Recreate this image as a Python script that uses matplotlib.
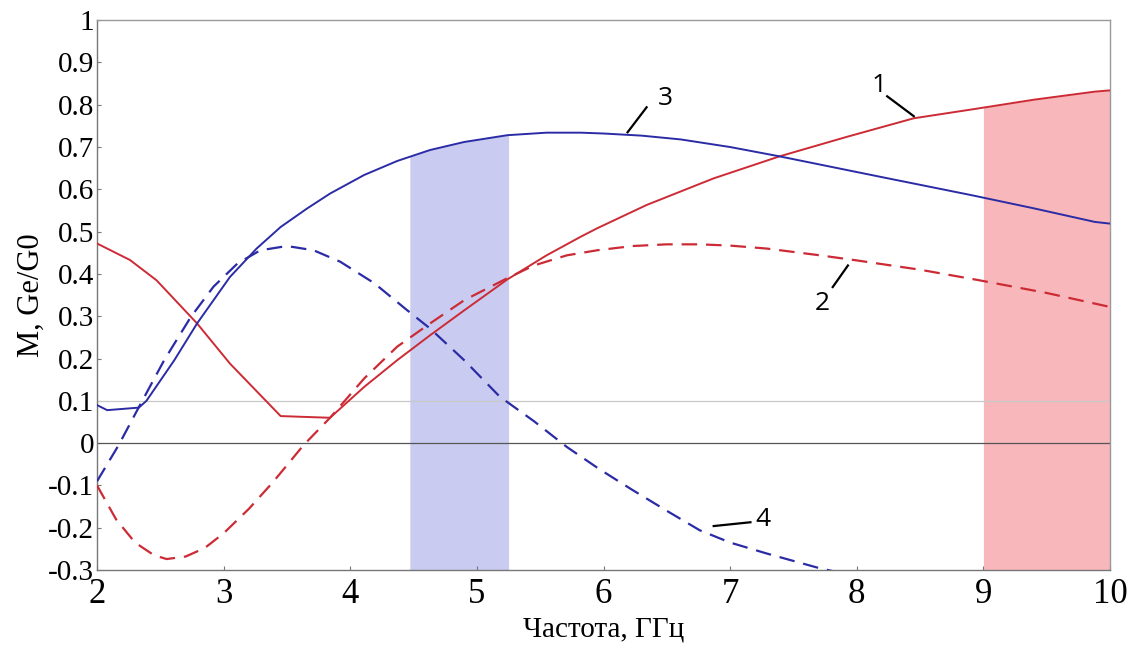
import numpy as np
import matplotlib
matplotlib.use("Agg")
import matplotlib.pyplot as plt

# curve 1 - red solid
x1 = [2.0, 2.26, 2.47, 2.79, 3.05, 3.45, 3.84, 4.11, 4.37, 4.63, 4.9, 5.24, 5.55, 5.82, 5.95,
      6.34, 6.87, 7.39, 7.92, 8.45, 8.91, 9.4, 9.88, 10.0]
y1 = [0.472, 0.433, 0.385, 0.283, 0.188, 0.064, 0.06, 0.133, 0.196, 0.255, 0.314, 0.387, 0.444, 0.488, 0.508,
      0.563, 0.626, 0.678, 0.724, 0.768, 0.789, 0.812, 0.831, 0.834]

# curve 2 - red dashed
x2 = [2.0, 2.15, 2.3, 2.45, 2.55, 2.7, 2.85, 3.0, 3.2, 3.39, 3.63, 3.84, 4.11, 4.37, 4.63, 4.9, 5.24,
      5.45, 5.71, 5.95, 6.23, 6.5, 6.76, 7.0, 7.29, 7.71, 8.0, 8.5, 8.95, 9.5, 10.0]
y2 = [-0.1, -0.18, -0.235, -0.265, -0.274, -0.268, -0.248, -0.213, -0.155, -0.092, -0.005, 0.06, 0.153, 0.228, 0.283, 0.338, 0.39,
      0.42, 0.444, 0.456, 0.466, 0.47, 0.47, 0.467, 0.46, 0.444, 0.432, 0.41, 0.386, 0.355, 0.322]

# curve 3 - blue solid
x3 = [2.0, 2.08, 2.33, 2.39, 2.61, 2.79, 3.05, 3.26, 3.45, 3.66, 3.84, 4.11, 4.37, 4.63, 4.9, 5.24,
      5.55, 5.82, 6.0, 6.3, 6.61, 7.0, 7.39, 8.18, 8.91, 9.4, 9.88, 10.0]
y3 = [0.09, 0.078, 0.084, 0.1, 0.196, 0.283, 0.393, 0.46, 0.511, 0.555, 0.59, 0.634, 0.667, 0.693, 0.712, 0.728,
      0.734, 0.734, 0.732, 0.727, 0.718, 0.7, 0.678, 0.63, 0.586, 0.555, 0.523, 0.519]

# curve 4 - blue dashed
x4 = [2.0, 2.17, 2.33, 2.53, 2.74, 2.92, 3.11, 3.29, 3.5, 3.71, 3.92, 4.19, 4.45, 4.63, 4.9, 5.18,
      5.45, 5.71, 5.97, 6.23, 6.5, 6.76, 7.0, 7.29, 7.71, 8.0]
y4 = [-0.09, -0.005, 0.085, 0.196, 0.298, 0.37, 0.425, 0.456, 0.466, 0.456, 0.429, 0.378, 0.314, 0.271, 0.196, 0.11,
      0.052, -0.009, -0.062, -0.111, -0.16, -0.206, -0.235, -0.261, -0.296, -0.315]

blue_band = (4.47, 5.25)
red_band = (9.0, 10.0)

RED = '#cc2b35'
BLUE = '#2b2ba6'
SERIF = ['Liberation Serif', 'DejaVu Serif']

fig = plt.figure(figsize=(11.35, 6.5), dpi=100)
ax = fig.add_axes([0.0855, 0.123, 0.8925, 0.846])

ymin, ymax = -0.3, 1.0

# shaded bands go from the bottom up to the curve
xb = np.linspace(blue_band[0], blue_band[1], 100)
ax.fill_between(xb, ymin, np.interp(xb, x3, y3), color='#c9ccf0', lw=0, zorder=1)
xr = np.linspace(red_band[0], red_band[1], 100)
ax.fill_between(xr, ymin, np.interp(xr, x1, y1), color='#f8b7bb', lw=0, zorder=1)

ax.axhline(0, color='#555555', lw=0.9, zorder=2)
ax.axhline(0.1, color='#c8c8c8', lw=0.9, zorder=2)

ax.plot(x1, y1, color=RED, lw=1.4, zorder=3)
ax.plot(x2, y2, color=RED, lw=1.6, dashes=(7, 4), zorder=3)
ax.plot(x3, y3, color=BLUE, lw=1.4, zorder=3)
ax.plot(x4, y4, color=BLUE, lw=1.6, dashes=(7, 4), zorder=3)

# curve numbers with leader lines
labels = [('1', (8.24, 0.82), (8.45, 0.773), (8.18, 0.845)),
          ('2', (7.93, 0.42), (7.81, 0.369), (7.73, 0.33)),
          ('3', (6.34, 0.794), (6.19, 0.735), (6.49, 0.815)),
          ('4', (6.87, -0.196), (7.16, -0.187), (7.26, -0.18))]
for t, p0, p1, pt in labels:
    ax.plot([p0[0], p1[0]], [p0[1], p1[1]], color='black', lw=1.6, zorder=4)
    ax.text(pt[0], pt[1], t, fontsize=19, family=['Open Sans', 'DejaVu Sans'],
            ha='center', va='center', zorder=4)

ax.set_xlim(2, 10)
ax.set_ylim(ymin, ymax)
ax.set_xticks(range(2, 11))
yt = np.round(np.arange(-0.3, 1.01, 0.1), 1)
ax.set_yticks(yt)
ax.set_yticklabels(['0' if v == 0 else ('1' if v == 1 else f'{v:g}') for v in yt])

for s in ax.spines.values():
    s.set_color('#999999')
    s.set_linewidth(1.0)
ax.spines['left'].set_color('#777777')
ax.spines['bottom'].set_color('#777777')

ax.tick_params(direction='in', length=3, color='#777777', labelsize=21, pad=2)
for lab in ax.get_xticklabels() + ax.get_yticklabels():
    lab.set_family(SERIF)
ax.tick_params(axis='x', labelsize=25, pad=6)

ax.set_xlabel('Частота, ГГц', fontsize=21, family=SERIF, labelpad=4)
ax.set_ylabel('M, Ge/G0', fontsize=22, family=SERIF, labelpad=2)

fig.savefig('out.png', dpi=100)
